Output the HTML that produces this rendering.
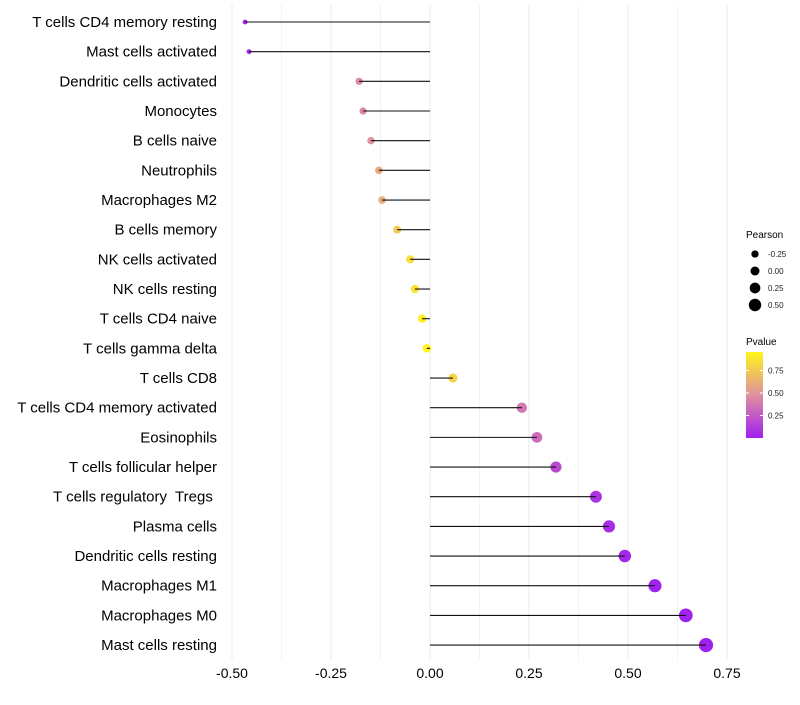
<!DOCTYPE html>
<html><head><meta charset="utf-8"><style>
body{margin:0;background:#fff;font-family:"Liberation Sans",Arial,sans-serif;}
svg text{font-family:"Liberation Sans",Arial,sans-serif;white-space:pre;}
</style></head><body>
<svg id="chart" width="800" height="700">
<defs><linearGradient id="pg" x1="0" y1="1" x2="0" y2="0">
<stop offset="0" stop-color="#A020F0"/><stop offset="0.5" stop-color="#E090A0"/><stop offset="1" stop-color="#FFF51A"/>
</linearGradient></defs>
<g id="grid"></g>
<g id="marks"></g>
<g id="ylab"></g>
<g id="xlab"></g>
<g>
<text x="746" y="238" font-size="10">Pearson</text>
<g id="sizeleg"></g>
</g>
<g>
<text x="746" y="345" font-size="10">Pvalue</text>
<rect x="746" y="352" width="17" height="86" fill="url(#pg)"/>
<g id="colleg"></g>
</g>
</svg>
<script>
const categories=["T cells CD4 memory resting","Mast cells activated","Dendritic cells activated","Monocytes","B cells naive","Neutrophils","Macrophages M2","B cells memory","NK cells activated","NK cells resting","T cells CD4 naive","T cells gamma delta","T cells CD8","T cells CD4 memory activated","Eosinophils","T cells follicular helper","T cells regulatory  Tregs ","Plasma cells","Dendritic cells resting","Macrophages M1","Macrophages M0","Mast cells resting"];
const pearson=[-0.467,-0.457,-0.179,-0.169,-0.149,-0.129,-0.121,-0.083,-0.05,-0.038,-0.02,-0.008,0.058,0.232,0.27,0.318,0.419,0.452,0.492,0.568,0.646,0.697];
const pvalue=[0.03,0.03,0.45,0.45,0.5,0.6,0.62,0.75,0.85,0.87,0.93,0.96,0.8,0.38,0.33,0.18,0.08,0.05,0.03,0.01,0.005,0.001];
const xTicks=[-0.5,-0.25,0,0.25,0.5,0.75];
const xTickLabels=["-0.50","-0.25","0.00","0.25","0.50","0.75"];
const sizeLegend=[-0.25,0,0.25,0.5];
const sizeLegendLabels=["-0.25","0.00","0.25","0.50"];
const colLegend=[0.25,0.5,0.75];
const colLegendLabels=["0.25","0.50","0.75"];
const NS="http://www.w3.org/2000/svg";
const x=v=>430+v*396;
const y=i=>22+i*29.67;
const r=v=>4.3+v*4;
const pMax=0.96;
function lerp(a,b,t){return a.map((c,i)=>Math.round(c+(b[i]-c)*t));}
function col(p){const t=Math.max(0,Math.min(1,p/pMax));const A=[160,32,240],M=[224,144,160],B=[255,245,26];
const c=t<0.5?lerp(A,M,t*2):lerp(M,B,(t-0.5)*2);return `rgb(${c})`;}
function mk(tag,at,parent){const e=document.createElementNS(NS,tag);for(const k in at)e.setAttribute(k,at[k]);parent.appendChild(e);return e;}
const grid=document.getElementById('grid'),marks=document.getElementById('marks'),ylab=document.getElementById('ylab'),xlab=document.getElementById('xlab');
for(let v=-0.5;v<=0.751;v+=0.125){const l=mk('line',{x1:x(v),x2:x(v),y1:5,y2:660,stroke:'#ebebeb','stroke-width':Math.abs(v*4-Math.round(v*4))<0.01?1:0.6},grid);
}
xTicks.forEach((v,i)=>{const t=mk('text',{x:x(v),y:678,'font-size':14,'text-anchor':'middle',fill:'#000'},xlab);t.textContent=xTickLabels[i];
});
categories.forEach((c,i)=>{
const t=mk('text',{x:217,y:y(i)+5,'font-size':15,'text-anchor':'end',fill:'#000'},ylab);t.textContent=c;

const d=mk('circle',{cx:x(pearson[i]),cy:y(i),r:r(pearson[i]),fill:col(pvalue[i])},marks);

const l=mk('line',{x1:x(0),x2:x(pearson[i]),y1:y(i),y2:y(i),stroke:'#111','stroke-width':1.1},marks);

});
const sl=document.getElementById('sizeleg');
sizeLegend.forEach((v,i)=>{const cy=254+i*17;const c=mk('circle',{cx:755,cy:cy,r:4.5+v*4*0.85,fill:'#000'},sl);

const t=mk('text',{x:768,y:cy+3,'font-size':8,fill:'#222'},sl);t.textContent=sizeLegendLabels[i];
});
const cl=document.getElementById('colleg');
colLegend.forEach((v,i)=>{const yy=438-v*90;const t=mk('text',{x:768,y:yy+3,'font-size':8,fill:'#222'},cl);t.textContent=colLegendLabels[i];

const l=mk('line',{x1:746,x2:749,y1:yy,y2:yy,stroke:'#fff'},cl);
const l2=mk('line',{x1:760,x2:763,y1:yy,y2:yy,stroke:'#fff'},cl);});
</script>
</body></html>
